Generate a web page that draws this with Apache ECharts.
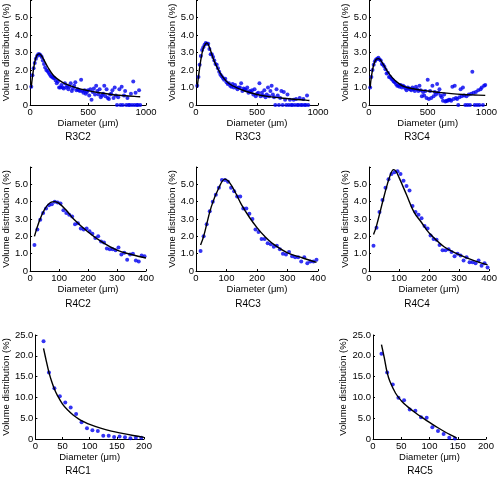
<!DOCTYPE html>
<html>
<head>
<meta charset="utf-8">
<script src="https://cdn.jsdelivr.net/npm/echarts@6/dist/echarts.min.js"></script>
<style>html,body{margin:0;padding:0;background:#fff}#c{width:500px;height:481px}</style>
</head>
<body>
<div id="c"></div>
<script>
// ---------- DATA ----------
const titles = ['R3C2','R3C3','R3C4','R4C2','R4C3','R4C4','R4C1','R4C5'];
const yAxisName = 'Volume distribution (%)';
const xAxisName = 'Diameter (\u03bcm)';

// measured diameters (row 3 experiments: wide range)
const diamWide = [10,20,30,40,50,60,70,80,90,100,110,120,130,140,150,160,170,180,190,200,
  210,220,230,240,250,260,270,280,290,300,310,320,330,340,350,360,370,380,390,400,
  410,420,430,440,450,460,470,480,490,500,510,520,530,540,550,560,570,580,590,600,
  610,620,630,640,650,660,670,680,690,700,710,720,730,740,750,760,770,780,790,800,
  810,820,830,840,850,860,870,880,890,900,910,920,930,940,950,960,970,980,990];
const diamMid = [15,25,35,45,55,65,75,85,95,105,115,125,135,145,155,165,175,185,195,205,
  215,225,235,245,255,265,275,285,295,305,315,325,335,345,355,365,375,385,395];
const diamSmall = [15,25,35,45,55,65,75,85,95,105,115,125,135,145,155,165,175,185,195];

// measured volume distributions (%)
const r3c2Meas = [1.05,1.7,2.1,2.4,2.65,2.8,2.9,2.9,2.85,2.75,2.55,2.35,2.15,2.0,1.95,1.85,1.75,1.65,1.6,1.55,
  1.55,1.4,1.25,1.35,1.0,1.0,1.15,1.0,0.95,1.25,1.0,1.1,0.9,1.05,1.25,0.8,0.95,1.1,1.3,0.85,
  0.9,0.85,0.8,1.45,0.8,0.7,0.85,0.65,0.75,0.85,0.55,0.9,0.3,0.75,0.95,0.6,1.1,0.8,0.6,0.9,
  0.45,0.55,0.65,1.1,0.5,0.9,0.4,0.35,0.6,0.65,0.85,0.4,1.0,0.55,0.0,0.45,0.9,0.0,1.05,0.0,
  0.55,0.8,0.0,0.4,0.0,0.0,0.65,0.0,1.35,0.0,0.7,0.0,0.0,0.85,0.0];
const r3c3Meas = [1.1,1.6,2.3,2.8,3.15,3.3,3.45,3.55,3.5,3.5,3.2,2.9,2.9,2.75,2.55,2.35,2.3,2.1,1.9,1.75,
  1.65,1.55,1.45,1.5,1.3,1.2,1.25,1.1,1.05,1.2,1.0,1.15,1.0,0.9,1.0,1.0,1.25,0.8,0.95,0.9,
  0.85,1.0,0.7,0.8,0.75,0.85,0.6,0.9,0.5,0.65,0.7,1.25,0.5,0.7,0.55,0.85,0.45,0.6,1.0,0.5,
  0.8,1.1,0.6,0.45,0.0,0.9,0.55,0.0,0.4,0.8,0.0,0.75,0.3,0.0,0.6,0.0,0.3,0.0,0.0,0.3,
  0.0,0.35,0.0,0.0,0.4,0.0,0.0,0.35,0.0,0.0,0.55,0.0];
const r3c4Meas = [1.0,1.6,2.0,2.3,2.5,2.6,2.65,2.7,2.6,2.55,2.35,2.3,2.2,2.05,1.8,1.85,1.6,1.6,1.5,1.45,
  1.35,1.3,1.2,1.1,1.1,1.05,1.15,1.0,1.1,1.05,0.95,0.85,1.0,0.95,0.9,0.85,1.0,0.9,0.8,1.05,
  0.9,0.8,1.1,0.85,0.5,0.75,0.55,0.8,0.4,1.45,0.35,0.8,0.4,1.1,0.5,0.75,0.6,1.2,0.7,0.9,
  0.55,0.45,0.25,0.6,0.2,0.25,0.25,0.3,0.3,0.25,1.05,0.35,1.1,0.4,0.35,0.0,0.45,0.9,0.5,1.0,
  0.55,0.0,0.5,0.0,0.6,0.0,0.65,1.9,0.7,0.0,0.75,0.0,0.85,0.0,0.9,1.0,0.0,1.1,1.15];
const r4c2Meas = [1.5,2.4,2.95,3.35,3.6,3.8,3.85,4.0,3.95,3.9,3.5,3.35,3.25,3.15,2.7,2.75,2.45,2.4,2.45,2.3,
  2.15,1.9,2.0,1.7,1.65,1.3,1.25,1.25,1.2,1.35,0.95,1.05,0.65,0.95,1.0,0.6,0.55,0.9,0.85];
const r4c3Meas = [1.15,2.0,2.7,3.45,4.0,4.4,4.8,5.25,5.25,5.15,4.8,4.6,4.3,4.3,3.6,3.6,3.3,3.0,2.4,2.25,
  1.85,1.85,1.6,1.55,1.4,1.45,1.25,1.0,0.95,1.1,0.85,0.8,0.8,0.55,0.8,0.45,0.55,0.55,0.65];
const r4c4Meas = [1.45,2.5,3.4,4.1,4.8,5.3,5.6,5.7,5.75,5.6,5.2,4.9,4.65,3.75,3.4,3.25,3.05,2.6,2.45,2.05,
  1.85,1.8,1.5,1.2,1.2,1.25,1.1,0.85,1.0,0.9,0.6,0.8,0.5,0.5,0.45,0.6,0.3,0.45,0.2];
const r4c1Meas = [23.5,16.0,12.2,10.3,8.8,7.6,6.0,4.0,2.6,2.1,1.9,0.8,0.8,0.5,0.6,0.4,0.2,0.3,0.3];
const r4c5Meas = [20.5,16.0,13.1,9.9,9.3,7.1,6.8,5.2,5.1,2.8,1.9,1.2,0.3,0.1];

// fitted model curves
const r3c2FitX = [10,20,40,60,80,100,150,200,250,300,400,500,600,700,800,900,950];
const r3c2FitY = [1.0,1.6,2.45,2.85,2.92,2.8,2.2,1.7,1.42,1.22,0.98,0.82,0.7,0.6,0.54,0.49,0.47];
const r3c3FitX = [10,20,40,60,80,90,110,150,200,250,300,400,500,600,700,800,900,930];
const r3c3FitY = [1.0,1.6,2.6,3.25,3.5,3.55,3.3,2.5,1.8,1.35,1.1,0.8,0.6,0.48,0.4,0.33,0.28,0.26];
const r3c4FitX = [10,20,40,60,80,100,150,200,250,300,400,500,600,700,800,900,990];
const r3c4FitY = [1.0,1.6,2.3,2.6,2.65,2.55,2.0,1.55,1.25,1.05,0.9,0.8,0.72,0.65,0.6,0.57,0.55];
const r4c2FitX = [15,30,50,70,85,100,125,150,200,250,300,350,400];
const r4c2FitY = [2.0,2.8,3.55,3.95,4.0,3.9,3.5,3.0,2.25,1.65,1.2,0.95,0.75];
const r4c3FitX = [15,25,50,75,95,110,130,150,175,200,225,250,300,350,395];
const r4c3FitY = [1.5,2.0,3.7,4.8,5.3,5.1,4.5,3.8,3.1,2.5,2.0,1.6,1.05,0.75,0.5];
const r4c4FitX = [15,25,50,70,82,90,100,125,150,175,200,250,300,350,395];
const r4c4FitY = [2.1,2.6,4.3,5.5,5.85,5.75,5.4,4.4,3.4,2.8,2.2,1.4,0.95,0.6,0.35];
const r4c1FitX = [15,20,25,30,35,40,50,60,70,80,90,100,120,140,160,180,200];
const r4c1FitY = [21.8,18.8,16.0,13.8,12.0,10.6,8.4,6.9,5.7,4.8,4.1,3.5,2.6,1.9,1.35,0.85,0.4];
const r4c5FitX = [15,20,25,30,40,50,60,75,90,100,115,130,140,148];
const r4c5FitY = [22.7,19.5,16.0,13.8,11.0,9.2,7.9,6.3,4.9,4.0,2.7,1.5,0.8,0.2];

// axis ticks
const wideTicks = {min:0, max:1000, interval:500};
const midTicks = {min:0, max:400, interval:100};
const smallTicks = {min:0, max:200, interval:50};
const pctTicks = {min:0, max:6, interval:1};
const bigPctTicks = {min:0, max:25, interval:5};

// ---------- CHART ----------
const zip = (xs, ys) => ys.map((y, i) => [xs[i], y]);
const panels = [
  {meas: zip(diamWide, r3c2Meas), fit: zip(r3c2FitX, r3c2FitY), xt: wideTicks, yt: pctTicks},
  {meas: zip(diamWide, r3c3Meas), fit: zip(r3c3FitX, r3c3FitY), xt: wideTicks, yt: pctTicks},
  {meas: zip(diamWide, r3c4Meas), fit: zip(r3c4FitX, r3c4FitY), xt: wideTicks, yt: pctTicks},
  {meas: zip(diamMid, r4c2Meas), fit: zip(r4c2FitX, r4c2FitY), xt: midTicks, yt: pctTicks},
  {meas: zip(diamMid, r4c3Meas), fit: zip(r4c3FitX, r4c3FitY), xt: midTicks, yt: pctTicks},
  {meas: zip(diamMid, r4c4Meas), fit: zip(r4c4FitX, r4c4FitY), xt: midTicks, yt: pctTicks},
  {meas: zip(diamSmall, r4c1Meas), fit: zip(r4c1FitX, r4c1FitY), xt: smallTicks, yt: bigPctTicks},
  {meas: zip(diamSmall, r4c5Meas), fit: zip(r4c5FitX, r4c5FitY), xt: smallTicks, yt: bigPctTicks}
];
const boxes = [
  {l:24, t:0, w:122, h:105}, {l:196, t:0, w:122, h:105}, {l:369, t:0, w:122, h:105},
  {l:24, t:167, w:122, h:104}, {l:196, t:167, w:122, h:104}, {l:369, t:167, w:122, h:104},
  {l:31, t:335, w:113, h:104}, {l:373, t:335, w:113, h:104}
];
const titlePos = [[78,137],[248,137],[417,137],[78,304],[248,304],[417,304],[78,471],[420,471]];

const FONT = 'Liberation Sans, Arial, Helvetica, sans-serif';
const grid = [], xAxis = [], yAxis = [], series = [], graphic = [];
panels.forEach((p, i) => {
  const b = boxes[i];
  grid.push({left:b.l, top:b.t, width:b.w, height:b.h, containLabel:false});
  const axisCommon = {
    axisLine:{show:true, lineStyle:{color:'#000', width:1}},
    axisTick:{show:true, inside:true, length:2, lineStyle:{color:'#000'}},
    splitLine:{show:false},
    nameLocation:'middle',
    nameTextStyle:{fontFamily:FONT, fontSize:9.5, color:'#000'}
  };
  xAxis.push(Object.assign({}, axisCommon, {
    type:'value', gridIndex:i, min:p.xt.min, max:p.xt.max, interval:p.xt.interval,
    name:xAxisName, nameGap:12,
    axisLabel:{fontFamily:FONT, fontSize:9.5, color:'#000', margin:2, showMaxLabel:true, showMinLabel:true,
      formatter: v => String(v)}
  }));
  const ymax = p.yt.max;
  yAxis.push(Object.assign({}, axisCommon, {
    type:'value', gridIndex:i, min:p.yt.min, max:p.yt.max, interval:p.yt.interval,
    name:yAxisName, nameGap: ymax > 10 ? 20 : 15,
    axisLabel:{fontFamily:FONT, fontSize:9.5, color:'#000', margin:2,
      formatter: v => v === 0 ? '0' : (ymax === 6 && v === 6 ? '' : v.toFixed(1))}
  }));
  series.push({type:'scatter', xAxisIndex:i, yAxisIndex:i, data:p.meas,
    symbol:'circle', symbolSize:4, itemStyle:{color:'#0000f0'}, silent:true, z:2});
  series.push({type:'line', xAxisIndex:i, yAxisIndex:i, data:p.fit, smooth:0.4,
    showSymbol:false, lineStyle:{color:'#000', width:1.4}, silent:true, z:3});
  graphic.push({type:'text', x:titlePos[i][0], y:titlePos[i][1],
    style:{text:titles[i], textAlign:'center', textVerticalAlign:'middle',
      font:'10px ' + FONT, fill:'#000'}});
});

const chart = echarts.init(document.getElementById('c'), null, {renderer:'canvas'});
chart.setOption({animation:false, backgroundColor:'#fff', grid, xAxis, yAxis, series, graphic});
</script>
</body>
</html>
